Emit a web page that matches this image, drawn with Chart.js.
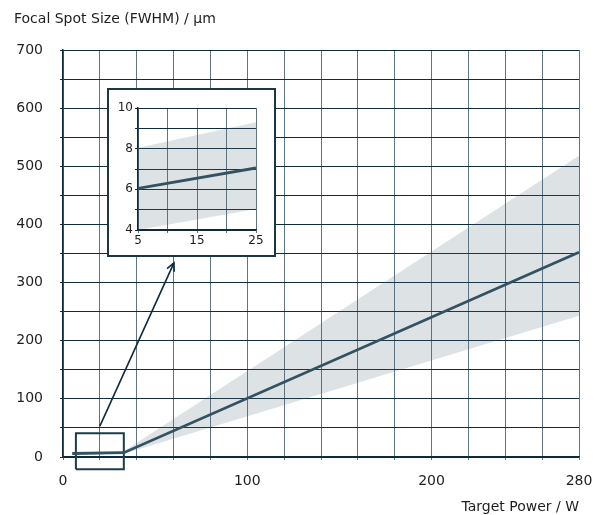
<!DOCTYPE html>
<html>
<head>
<meta charset="utf-8">
<script src="https://cdn.jsdelivr.net/npm/chart.js@4.4.1/dist/chart.umd.min.js"></script>
<style>
  html, body { margin: 0; padding: 0; background: #fff; }
  #wrap { position: relative; width: 599px; height: 515px; }
  #inset {
    position: absolute; left: 107px; top: 88px;
    width: 165px; height: 165px;
    border: 2px solid #1d3646; background: #fff;
  }
</style>
</head>
<body>
<div id="wrap">
  <canvas id="mainChart" width="599" height="515"></canvas>
  <div id="inset"><canvas id="insetChart" width="165" height="165"></canvas></div>
</div>
<script>
// main curve (Target Power / W vs spot size / µm)
const xPower = [5, 25, 33, 280];
const spotMid = [6, 7, 7.4, 352];
const spotLow = [4, 5, 5.4, 243];
const spotHigh = [8, 9.3, 9.8, 518];

// zoom box + arrow
const rectX = [7, 33, 33, 7, 7];
const rectY = [-21, -21, 41, 41, -21];
const arrowX = [20, 60.2];
const arrowY = [53, 334];

const xTickLabels = [0, 100, 200, 280];
const yTickLabels = [0, 100, 200, 300, 400, 500, 600, 700];

// inset
const insetPower = [5, 25];
const insetMid = [6.05, 7.05];
const insetLow = [4, 5.03];
const insetHigh = [8.05, 9.3];
const insetXLabels = [5, 15, 25];
const insetYLabels = [4, 6, 8, 10];

const DARK = "#0e2a3b";
const GREYLINE = "#5e7483";
const CURVE = "#2b4b5b";
// see-through so the grid stays visible under the band
const BAND = "rgba(85, 110, 125, 0.2)";
const FONT = { family: "DejaVu Sans", size: 14 };
const SMALL = { family: "DejaVu Sans", size: 12 };

Chart.defaults.font.family = "DejaVu Sans";
Chart.defaults.color = "#1e1e1e";

function pts(xs, ys) {
  return xs.map((x, i) => ({ x: x, y: ys[i] }));
}

const arrowHead = {
  id: "arrowHead",
  afterDatasetsDraw(chart) {
    const meta = chart.getDatasetMeta(4);
    const a = meta.data[0];
    const b = meta.data[1];
    const ang = Math.atan2(b.y - a.y, b.x - a.x);
    const len = 9;
    const ctx = chart.ctx;
    ctx.save();
    ctx.strokeStyle = DARK;
    ctx.lineWidth = 1.6;
    ctx.beginPath();
    ctx.moveTo(b.x - len * Math.cos(ang - 0.45), b.y - len * Math.sin(ang - 0.45));
    ctx.lineTo(b.x, b.y);
    ctx.lineTo(b.x - len * Math.cos(ang + 0.45), b.y - len * Math.sin(ang + 0.45));
    ctx.stroke();
    ctx.restore();
  },
};

const topTitle = {
  id: "topTitle",
  afterDraw(chart) {
    const ctx = chart.ctx;
    ctx.save();
    ctx.font = "14px 'DejaVu Sans'";
    ctx.fillStyle = "#1e1e1e";
    ctx.textBaseline = "middle";
    ctx.textAlign = "left";
    ctx.fillText("Focal Spot Size (FWHM) / µm", 14, 19);
    ctx.restore();
  },
};

new Chart(document.getElementById("mainChart"), {
  type: "line",
  data: {
    datasets: [
      {
        data: pts(xPower, spotLow),
        borderColor: "rgba(0,0,0,0)",
        borderWidth: 0,
        pointRadius: 0,
        fill: false,
      },
      {
        data: pts(xPower, spotHigh),
        borderColor: "rgba(0,0,0,0)",
        borderWidth: 0,
        pointRadius: 0,
        backgroundColor: BAND,
        fill: "-1",
      },
      {
        data: pts(xPower, spotMid),
        borderColor: CURVE,
        borderWidth: 2.8,
        pointRadius: 0,
        fill: false,
      },
      {
        data: pts(rectX, rectY),
        borderColor: "#1f3b4b",
        borderWidth: 2,
        pointRadius: 0,
        fill: false,
        clip: false,
      },
      {
        data: pts(arrowX, arrowY),
        borderColor: DARK,
        borderWidth: 1.6,
        pointRadius: 0,
        fill: false,
        clip: false,
      },
    ],
  },
  options: {
    responsive: false,
    animation: false,
    layout: { padding: { top: 50, right: 20, bottom: 0, left: 0 } },
    plugins: {
      legend: { display: false },
      tooltip: { enabled: false },
    },
    scales: {
      x: {
        type: "linear",
        min: 0,
        max: 280,
        afterFit: (s) => {
          s.height = 58;
          s.paddingLeft = 0;
          s.paddingRight = 0;
        },
        ticks: {
          stepSize: 20,
          autoSkip: false,
          maxRotation: 0,
          padding: 13,
          font: FONT,
          callback: (v) => (xTickLabels.includes(v) ? String(v) : ""),
        },
        grid: { color: GREYLINE, lineWidth: 1, tickLength: 3 },
        border: { color: DARK, width: 1.5 },
        title: {
          display: true,
          text: "Target Power / W",
          align: "end",
          font: FONT,
          padding: { top: 0, bottom: -1 },
        },
      },
      y: {
        type: "linear",
        min: 0,
        max: 700,
        afterFit: (s) => { s.width = 63; },
        ticks: {
          stepSize: 50,
          autoSkip: false,
          padding: 17,
          font: FONT,
          callback: (v) => (yTickLabels.includes(v) ? String(v) : ""),
        },
        grid: { color: DARK, lineWidth: 1, tickLength: 3 },
        border: { color: DARK, width: 1.5 },
      },
    },
  },
  plugins: [arrowHead, topTitle],
});

new Chart(document.getElementById("insetChart"), {
  type: "line",
  data: {
    datasets: [
      {
        data: pts(insetPower, insetLow),
        borderColor: "rgba(0,0,0,0)",
        borderWidth: 0,
        pointRadius: 0,
        fill: false,
      },
      {
        data: pts(insetPower, insetHigh),
        borderColor: "rgba(0,0,0,0)",
        borderWidth: 0,
        pointRadius: 0,
        backgroundColor: BAND,
        fill: "-1",
      },
      {
        data: pts(insetPower, insetMid),
        borderColor: CURVE,
        borderWidth: 2.8,
        pointRadius: 0,
        fill: false,
      },
    ],
  },
  options: {
    responsive: false,
    animation: false,
    layout: { padding: { top: 18, right: 18, bottom: 0, left: 0 } },
    plugins: {
      legend: { display: false },
      tooltip: { enabled: false },
    },
    scales: {
      x: {
        type: "linear",
        min: 5,
        max: 25,
        afterFit: (s) => {
          s.height = 25;
          s.paddingLeft = 0;
          s.paddingRight = 0;
        },
        ticks: {
          stepSize: 5,
          autoSkip: false,
          maxRotation: 0,
          padding: 1,
          font: SMALL,
          callback: (v) => (insetXLabels.includes(v) ? String(v) : ""),
        },
        grid: { color: GREYLINE, lineWidth: 1, tickLength: 3 },
        border: { color: DARK, width: 1.5 },
      },
      y: {
        type: "linear",
        min: 4,
        max: 10,
        afterFit: (s) => { s.width = 29; },
        ticks: {
          stepSize: 1,
          autoSkip: false,
          padding: 2,
          font: SMALL,
          callback: (v) => (insetYLabels.includes(v) ? String(v) : ""),
        },
        grid: { color: DARK, lineWidth: 1, tickLength: 3 },
        border: { color: DARK, width: 1.5 },
      },
    },
  },
});
</script>
</body>
</html>
